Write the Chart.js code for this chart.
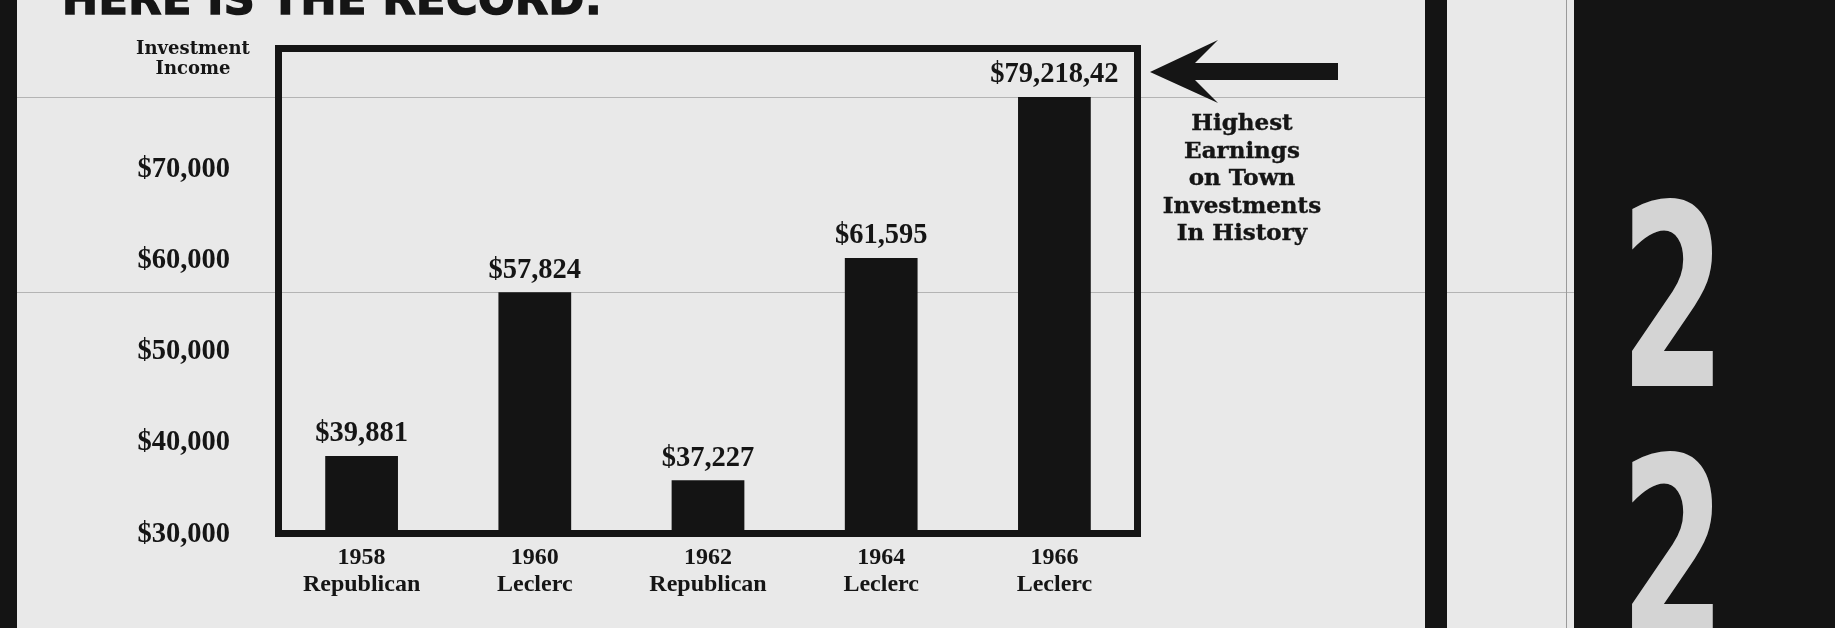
<!DOCTYPE html>
<html>
<head>
<meta charset="utf-8">
<title>Here is the record</title>
<script src="https://cdn.jsdelivr.net/npm/chart.js@4.4.0/dist/chart.umd.min.js"></script>
<style>
  body { margin: 0; background: #e9e9e9; }
  #page { position: relative; width: 1835px; height: 628px; overflow: hidden; background: #e9e9e9; }
  #chart { position: absolute; left: 0; top: 0; }
  .txt { position: absolute; color: #151515; white-space: nowrap; }
  .block { position: absolute; background: #141414; }
  .scanline { position: absolute; left: 0; height: 1px; background: #b4b4b4; }
  #title { left: 62px; top: -22px; font: bold 43px/43px "DejaVu Sans", sans-serif; letter-spacing: 0.5px;
           -webkit-text-stroke: 1.5px #151515; }
  #yTitle { left: 100px; width: 186px; top: 38px; text-align: center; font: bold 18px/20px "DejaVu Serif", serif; }
  #note { left: 1142px; width: 200px; top: 108px; text-align: center; font: bold 23px/27.5px "DejaVu Serif", serif;
          -webkit-text-stroke: 0.4px #151515; }
  .digit { position: absolute; left: 1573px; width: 200px; text-align: center; color: #d4d4d4;
           font: bold 254px/254px "DejaVu Sans", sans-serif; transform: scaleX(0.6); }
</style>
</head>
<body>
<div id="page">
  <div class="scanline" style="top:97px; width:1440px;"></div>
  <div class="scanline" style="top:292px; width:1574px;"></div>
  <div class="block" style="left:0; top:0; width:17px; height:628px;"></div>
  <div class="block" style="left:1425px; top:0; width:22px; height:628px;"></div>
  <div class="block" style="left:1566px; top:0; width:1px; height:628px; background:#9a9a9a;"></div>
  <div class="block" style="left:1574px; top:0; width:261px; height:628px;"></div>
  <div class="digit" style="top:171px;">2</div>
  <div class="digit" style="top:424px;">2</div>
  <canvas id="chart" width="1835" height="628"></canvas>
  <div class="txt" id="title">HERE IS THE RECORD:</div>
  <div class="txt" id="yTitle">Investment<br>Income</div>
  <div class="txt" id="note">Highest<br>Earnings<br>on Town<br>Investments<br>In History</div>
</div>
<script>
// Ingresos por inversiones del pueblo, por año de elección
const years = ["1958", "1960", "1962", "1964", "1966"];
const parties = ["Republican", "Leclerc", "Republican", "Leclerc", "Leclerc"];
const incomeValues = [39881, 57824, 37227, 61595, 79218.42];
const valueLabels = ["$39,881", "$57,824", "$37,227", "$61,595", "$79,218,42"];
const tickValues = [30000, 40000, 50000, 60000, 70000];
const tickLabels = ["$30,000", "$40,000", "$50,000", "$60,000", "$70,000"];

const ink = "#151515";
const numFont = '"Liberation Serif", "Times New Roman", serif';

// marco grueso alrededor del área del gráfico
const framePlugin = {
  id: "frame",
  afterDatasetsDraw(chart) {
    const { ctx, chartArea: a } = chart;
    ctx.save();
    ctx.strokeStyle = ink;
    ctx.lineWidth = 7;
    ctx.strokeRect(a.left + 3.5, a.top + 3.5, a.right - a.left - 7, a.bottom - a.top);
    ctx.restore();
  }
};

// etiquetas de valor encima de cada barra
const valueLabelPlugin = {
  id: "valueLabels",
  afterDatasetsDraw(chart) {
    const { ctx } = chart;
    const meta = chart.getDatasetMeta(0);
    ctx.save();
    ctx.fillStyle = ink;
    ctx.font = "bold 28.5px " + numFont;
    ctx.textAlign = "center";
    ctx.textBaseline = "middle";
    meta.data.forEach((bar, i) => {
      ctx.fillText(valueLabels[i], bar.x, bar.y - 22);
    });
    ctx.restore();
  }
};

// flecha que apunta al valor de 1966
const arrowPlugin = {
  id: "arrow",
  afterDraw(chart) {
    const { ctx } = chart;
    ctx.save();
    ctx.fillStyle = ink;
    ctx.beginPath();
    ctx.moveTo(1150, 72);
    ctx.lineTo(1218, 40);
    ctx.lineTo(1195, 63);
    ctx.lineTo(1338, 63);
    ctx.lineTo(1338, 80);
    ctx.lineTo(1195, 80);
    ctx.lineTo(1218, 103);
    ctx.closePath();
    ctx.fill();
    ctx.restore();
  }
};

const ctx = document.getElementById("chart").getContext("2d");

new Chart(ctx, {
  type: "bar",
  data: {
    labels: years.map((y, i) => [y, parties[i]]),
    datasets: [{
      data: incomeValues,
      backgroundColor: "#141414",
      borderWidth: 0,
      barPercentage: 0.42,
      categoryPercentage: 1
    }]
  },
  options: {
    responsive: false,
    animation: false,
    layout: { padding: { top: 45, right: 694, left: 0, bottom: 0 } },
    plugins: {
      legend: { display: false },
      tooltip: { enabled: false }
    },
    scales: {
      x: {
        grid: { display: false, drawTicks: false },
        border: { display: false },
        ticks: {
          color: ink,
          padding: 14,
          maxRotation: 0,
          autoSkip: false,
          font: { family: numFont, weight: "bold", size: 24, lineHeight: "27px" }
        },
        afterFit(scale) { scale.height = 98; }
      },
      y: {
        min: 31780,
        max: 84930,
        bounds: "data",
        grid: { display: false, drawTicks: false },
        border: { display: false },
        afterBuildTicks(scale) {
          scale.ticks = tickValues.map(v => ({ value: v }));
        },
        ticks: {
          color: ink,
          padding: 45,
          labelOffset: -12,
          font: { family: numFont, weight: "bold", size: 28.5 },
          callback: (value) => tickLabels[tickValues.indexOf(value)]
        },
        afterFit(scale) {
          scale.width = 275;
          scale.paddingTop = 0;
          scale.paddingBottom = 0;
        }
      }
    }
  },
  plugins: [framePlugin, valueLabelPlugin, arrowPlugin]
});
</script>
</body>
</html>
